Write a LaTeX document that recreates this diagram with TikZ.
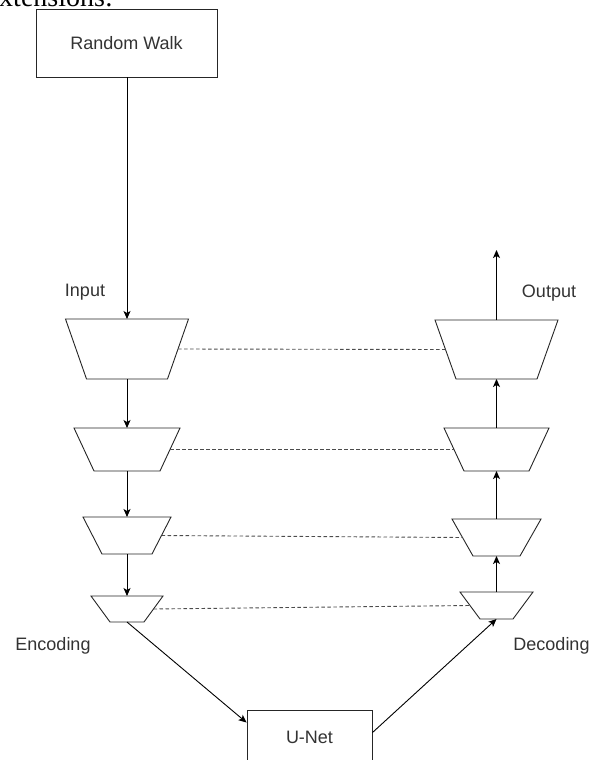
\documentclass[tikz,border=0pt]{standalone}
\usepackage{fontspec}
\setmainfont{Liberation Sans}
\newfontfamily\serifcap{Liberation Serif}
\usetikzlibrary{arrows.meta,calc}

\definecolor{inkgray}{HTML}{333333}

\tikzset{
  block/.style={draw=black!85, line width=0.9pt, fill=white, inner sep=0pt,
    font=\fontsize{18}{20}\selectfont, text=inkgray},
  stagebody/.style={rectangle, draw=none, inner sep=0pt, outer sep=0pt},
  stageline/.style={draw=black!85, line width=0.9pt, fill=white, line join=miter},
  flow/.style={draw=black, line width=0.9pt, -{Stealth[length=8pt,width=7pt,inset=2pt]}},
  skip/.style={draw=black!70, line width=0.9pt, dash pattern=on 3.5pt off 2.5pt},
  caption/.style={font=\fontsize{18}{20}\selectfont, text=inkgray, inner sep=0pt}
}

% #1 name, #2/#3 centre, #4 top width, #5 height, #6 bottom width
\newcommand\stagebox[6]{%
  \node[stagebody, minimum width=#4pt, minimum height=#5pt] (#1) at (#2,#3) {};
  \draw[stageline] ($(#1.north)+(-#4/2,0)$) -- ($(#1.north)+(#4/2,0)$)
    -- ($(#1.south)+(#6/2,0)$) -- ($(#1.south)+(-#6/2,0)$) -- cycle;
  \coordinate (#1-l) at ($(#1.center)+(-#4/4-#6/4,0)$);
  \coordinate (#1-r) at ($(#1.center)+(#4/4+#6/4,0)$);
}

\begin{document}
\begin{tikzpicture}[x=1pt,y=-1pt]
\useasboundingbox (0,0) rectangle (591,760);
\clip (0,0) rectangle (591,760);

% heading line of the surrounding text, cut at the top edge
\node[font=\serifcap\fontsize{28}{30}\selectfont, anchor=base east, inner sep=0pt]
  (head) at (113,7) {extensions:};

% source box
\node[block, minimum width=181pt, minimum height=68pt] (rw) at (126.5,43) {Random Walk};

% encoder stages
\stagebox{e1}{127}{349}{123}{60}{81}
\stagebox{e2}{127}{449.5}{106}{43}{66}
\stagebox{e3}{127}{535.5}{88}{37}{50}
\stagebox{e4}{127}{609}{72}{26}{34}

% decoder stages
\stagebox{d1}{496.5}{349.5}{123}{59}{81}
\stagebox{d2}{496.5}{449.5}{105}{43}{65}
\stagebox{d3}{496.5}{537.5}{89}{37}{47}
\stagebox{d4}{496.5}{605.5}{73}{27}{33}

% bottleneck
\node[block, minimum width=125pt, minimum height=60pt] (unet) at (309.5,740) {};
\node[caption] (unettext) at (309.5,737) {U-Net};

% labels
\node[caption] (lin)  at (85,292)  {Input};
\node[caption] (lout) at (549,293) {Output};
\node[caption] (lenc) at (53,646)  {Encoding};
\node[caption] (ldec) at (551.5,646) {Decoding};

% free end of the output arrow
\coordinate (outtip) at (496.5,250);

% encoder path
\draw[flow] (rw.south -| e1.north) -- (e1.north);
\draw[flow] (e1.south) -- (e2.north);
\draw[flow] (e2.south) -- (e3.north);
\draw[flow] (e3.south) -- (e4.north);
\draw[flow] (e4.south) -- ($(unet.north west)+(0,13)$);

% decoder path
\draw[flow] ($(unet.north east)+(0,23)$) -- (d4.south);
\draw[flow] (d4.north) -- (d3.south);
\draw[flow] (d3.north) -- (d2.south);
\draw[flow] (d2.north) -- (d1.south);
\draw[flow] (d1.north) -- (outtip);

% skip connections
\draw[skip] (e1-r) -- (d1-l);
\draw[skip] (e2-r) -- (d2-l);
\draw[skip] (e3-r) -- (d3-l);
\draw[skip] (e4-r) -- (d4-l);
\end{tikzpicture}
\end{document}
